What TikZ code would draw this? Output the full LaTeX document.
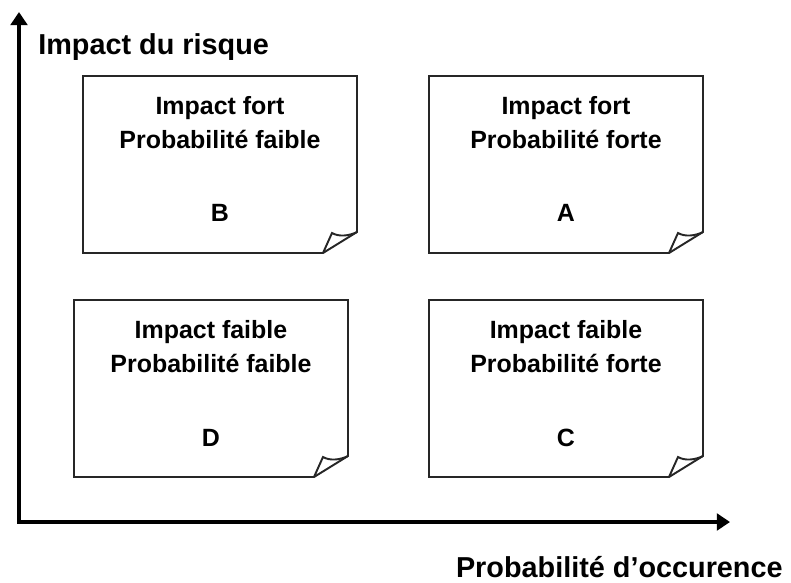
\documentclass[tikz,border=0pt]{standalone}
\usepackage{fontspec}
\setmainfont{Liberation Sans}
\usetikzlibrary{arrows.meta}
\tikzset{
  note line/.style={draw=black!85, line width=1.1pt, line join=miter},
  note text/.style={font=\bfseries\fontsize{14.2}{17}\selectfont, anchor=base, inner sep=0pt},
  axis label/.style={font=\bfseries\fontsize{16.4}{20}\selectfont, inner sep=0pt},
  axis/.style={line width=2.2pt, line join=miter,
    {Triangle[length=7.5pt,width=9.5pt]}-{Triangle[length=7.5pt,width=9.5pt]}},
  note/.pic={
    \draw[note line] (0,0) -- (274,0) -- (274,156) -- (240,177) -- (0,177) -- cycle;
    \draw[note line] (240,177) -- (249,157) .. controls (256,161) and (266,160) .. (274,156);
  }
}

\begin{document}
\begin{tikzpicture}[x=0.02cm, y=-0.02cm]
    \useasboundingbox (0,0) rectangle (791,582);

    % axes
    \coordinate (O) at (19,522);
    \coordinate (ytip) at (19,12);
    \coordinate (xtip) at (730,522);
    \draw[axis] (ytip) -- (O) -- (xtip);
    \node[axis label, anchor=base west] (ylab) at (38,54) {Impact du risque};
    \node[axis label, anchor=base east] (xlab) at (783,577) {Probabilité d’occurence};

    % the four notes
    \pic at (83,76) {note};
    \pic at (429,76) {note};
    \pic at (74,300) {note};
    \pic at (429,300) {note};

    \begin{scope}[every node/.style={note text}]
        \node (Btop) at (220,114) {Impact fort};
        \node (Bmid) at (220,148) {Probabilité faible};
        \node (B)    at (220,221) {B};

        \node (Atop) at (566,114) {Impact fort};
        \node (Amid) at (566,148) {Probabilité forte};
        \node (A)    at (566,221) {A};

        \node (Dtop) at (211,338) {Impact faible};
        \node (Dmid) at (211,372) {Probabilité faible};
        \node (D)    at (211,446) {D};

        \node (Ctop) at (566,338) {Impact faible};
        \node (Cmid) at (566,372) {Probabilité forte};
        \node (C)    at (566,446) {C};
    \end{scope}
\end{tikzpicture}
\end{document}
